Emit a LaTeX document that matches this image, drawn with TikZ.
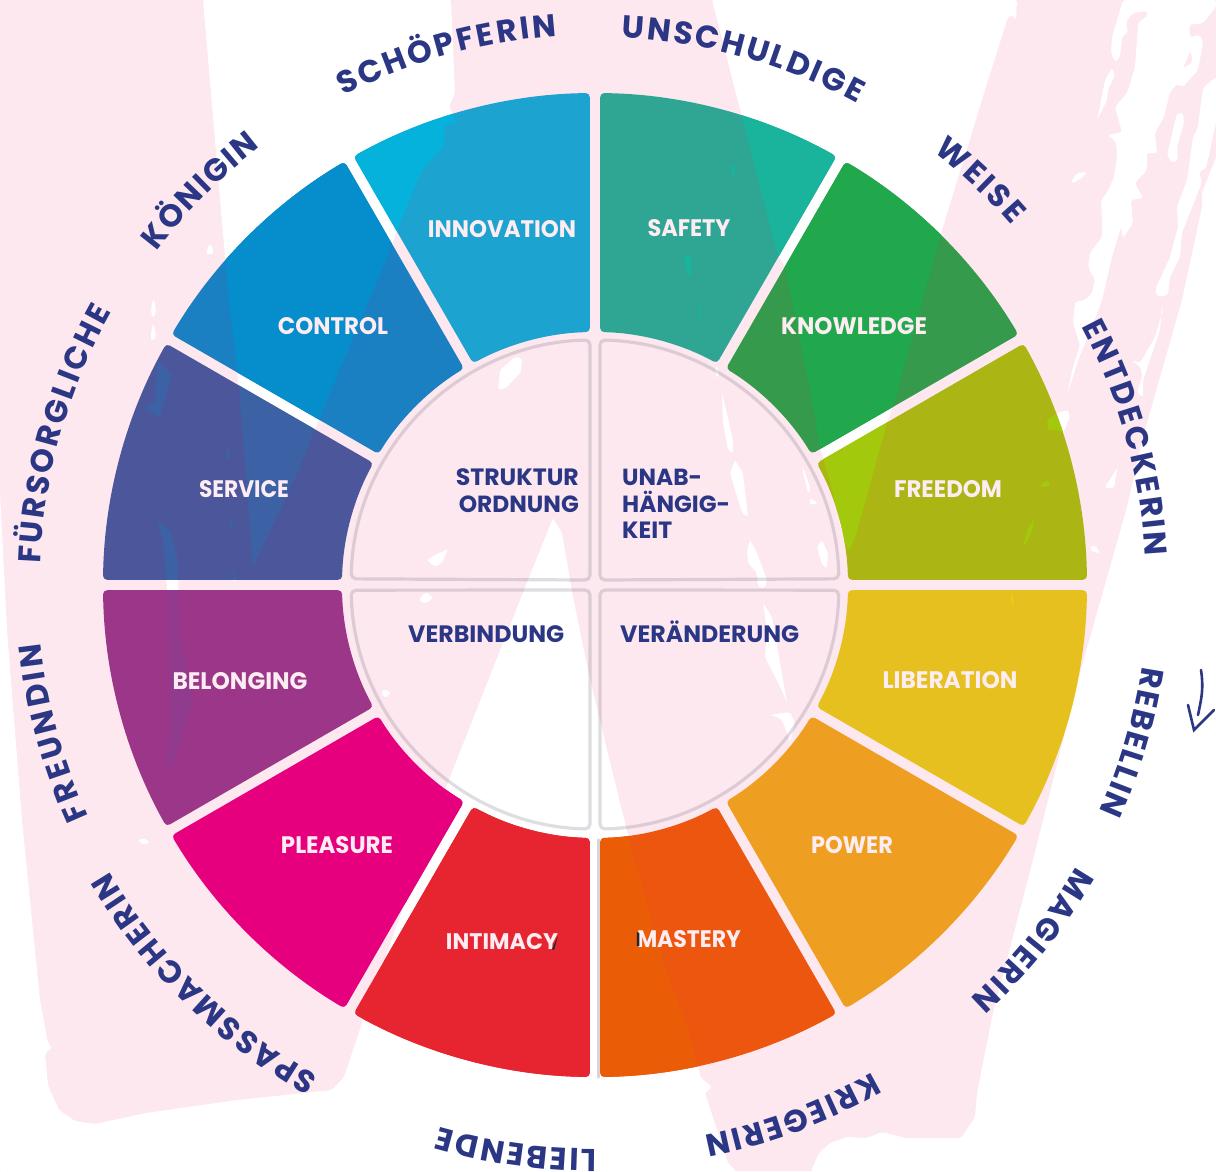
\documentclass[tikz,border=0pt]{standalone}
\usepackage{fontspec}
\usepackage{graphicx}
\setmainfont{Poppins}
\usetikzlibrary{decorations.text}
\definecolor{pinkbg}{HTML}{FDE8EF}
\definecolor{navy}{HTML}{2B3785}
\definecolor{labelw}{HTML}{FDEDF2}
\definecolor{gridl}{HTML}{5A5A70}
\definecolor{sfB}{HTML}{2FA594}\definecolor{sfA}{HTML}{1AB39B}
\definecolor{knB}{HTML}{359A4B}\definecolor{knA}{HTML}{21A84D}
\definecolor{frB}{HTML}{ABB513}\definecolor{frA}{HTML}{A2C90C}
\definecolor{liB}{HTML}{E5C01F}\definecolor{liA}{HTML}{E6CE10}
\definecolor{poB}{HTML}{EE9F22}\definecolor{poA}{HTML}{EE9F22}
\definecolor{maB}{HTML}{ED560F}\definecolor{maA}{HTML}{EA5C05}
\definecolor{inB}{HTML}{E72531}\definecolor{inA}{HTML}{E72531}
\definecolor{plB}{HTML}{E6007E}\definecolor{plA}{HTML}{E6007E}
\definecolor{beB}{HTML}{9B3688}\definecolor{beA}{HTML}{913B8F}
\definecolor{seB}{HTML}{4C569B}\definecolor{seA}{HTML}{3C62A5}
\definecolor{coB}{HTML}{1B80C2}\definecolor{coA}{HTML}{068DCB}
\definecolor{ivB}{HTML}{1CA3CF}\definecolor{ivA}{HTML}{04B2DC}
% white parts of the background, y pointing down in pixels
\newcommand{\whites}{
 (203,0)--(228,292)--(238,377)--(253,567)--(300,467)--(327,400)--(389,253)--(397,230)--(422,170)--(443,147)--(445,125)--(457,122)--(449,107)--(455,93)--(451,0)--cycle
 (712,0)--(741,113)--(777,253)--(785,267)--(812,400)--(820,447)--(832,490)--(845,545)--(850,550)--(856,535)--(887,423)--(895,400)--(942,230)--(985,90)--(1008,17)--(1012,15)--(1016,20)--(1017,0)--cycle
 (553,518)--(562,533)--(573,597)--(588,670)--(607,750)--(630,843)--(665,967)--(689,1033)--(699,1067)--(700,1077)--(712,1087)--(705,1093)--(728,1163)--(736,1171)--(0,1171)--(0,493)--(7,630)--(22,820)--(40,1000)--(48,1043)--(52,1048)--(45,1053)--(48,1085)--(59,1110)--(75,1121)--(95,1124)--(146,1113)--(237,1100)--(332,1090)--(344,1077)--(363,1020)--(450,777)--(528,580)--cycle
 (811,1171)--(819,1153)--(830,1143)--(847,1137)--(867,1138)--(882,1132)--(906,1138)--(961,1138)--(975,1117)--(977,1093)--(993,1013)--(1033,860)--(1080,673)--(1095,620)--(1127,507)--(1143,437)--(1182,300)--(1202,207)--(1202,193)--(1216,157)--(1216,1171)--cycle
 (1123,0)--(1112,37)--(1111,53)--(1115,62)--(1120,57)--(1122,37)--(1128,32)--(1126,22)--(1133,13)--(1147,11)--(1148,15)--(1138,23)--(1137,40)--(1135,67)--(1127,93)--(1115,107)--(1122,132)--(1108,135)--(1116,142)--(1117,157)--(1114,177)--(1107,193)--(1101,200)--(1102,220)--(1102,237)--(1090,253)--(1088,267)--(1095,280)--(1092,293)--(1085,300)--(1075,302)--(1073,323)--(1080,345)--(1073,367)--(1067,395)--(1080,355)--(1090,333)--(1102,300)--(1112,257)--(1121,227)--(1123,238)--(1133,223)--(1131,200)--(1143,198)--(1135,183)--(1147,170)--(1147,153)--(1157,153)--(1155,133)--(1164,117)--(1170,92)--(1177,84)--(1183,87)--(1198,70)--(1203,43)--(1200,35)--(1190,37)--(1189,25)--(1203,23)--(1216,7)--(1216,0)--cycle
 (1203,88)--(1200,110)--(1198,127)--(1193,137)--(1187,180)--(1177,207)--(1178,227)--(1170,257)--(1155,290)--(1158,297)--(1168,295)--(1170,277)--(1180,257)--(1182,233)--(1202,182)--(1199,172)--(1206,168)--(1216,123)--(1216,77)--cycle
 (1071,182)--(1077,173)--(1087,172)--(1082,178)--(1073,183)--cycle
 (1097,120)--(1105,80)--(1112,68)--(1115,75)--(1108,90)--(1107,100)--cycle
 (1167,155)--(1177,113)--(1183,113)--(1184,123)--(1177,147)--(1178,160)--(1172,163)--cycle
 (1183,68)--(1190,52)--(1192,55)--(1192,63)--cycle
 (1162,305)--(1163,310)--(1155,337)--(1140,363)--(1132,360)--(1141,368)--(1142,377)--(1137,393)--(1143,397)--(1143,380)--(1160,330)--cycle
 (1105,487)--(1118,467)--(1115,480)--(1115,487)--(1108,489)--cycle
 (1057,413)--(1068,410)--(1070,417)--(1063,433)--(1057,430)--(1048,430)--(1047,420)--cycle
 (1090,547)--(1095,545)--(1100,553)--(1092,552)--cycle
 (1040,485)--(1048,480)--(1050,485)--(1043,488)--cycle
 (1035,518)--(1030,537)--(1023,547)--(1027,530)--cycle
 (1011,593)--(1013,593)--(1014,605)--(1011,605)--cycle
 (515,357)--(522,358)--(521,372)--(506,388)--(498,390)--(500,370)--cycle
 (715,367)--(718,367)--(719,377)--(716,377)--cycle
 (722,393)--(733,440)--(733,453)--(728,450)--(723,423)--cycle
 (735,460)--(743,473)--(748,517)--(742,513)--(730,473)--cycle
 (803,467)--(811,490)--(808,493)--(803,473)--cycle
 (810,498)--(818,503)--(810,505)--cycle
 (822,540)--(828,553)--(827,568)--(822,565)--(817,547)--cycle
 (750,540)--(757,553)--(767,580)--(765,588)--(758,587)--(757,573)--(748,563)--(747,550)--cycle
 (763,603)--(772,617)--(787,703)--(783,693)--(773,673)--(765,657)--(767,630)--cycle
 (770,715)--(790,712)--(795,723)--(790,742)--(785,727)--(780,718)--cycle
 (448,549)--(442,563)--(435,567)--(427,560)--(435,555)--cycle
 (420,597)--(427,592)--(433,598)--(427,603)--(420,602)--cycle
 (381,692)--(385,689)--(391,693)--(385,698)--cycle
 (138,841)--(143,838)--(150,842)--(145,845)--cycle
 (152,300)--(155,300)--(156,313)--(153,318)--(151,313)--cycle
 (153,323)--(156,333)--(155,340)--(151,340)--(151,333)--cycle
 (206,254)--(209,244)--(213,247)--(213,254)--cycle
 (733,162)--(736,170)--(733,177)--(731,170)--cycle
 (684,256)--(690,255)--(692,268)--(690,278)--(685,268)--cycle
 (698,304)--(700,304)--(701,318)--(699,318)--cycle
 (157,360)--(172,375)--(160,417)--(143,408)--(155,402)--cycle
 (227,445)--(231,458)--(226,460)--cycle
 (230,518)--(233,530)--(229,530)--cycle
 (233,568)--(237,580)--(233,582)--cycle
 (157,520)--(170,530)--(178,560)--(179,633)--(193,700)--(173,767)--(167,767)--(170,717)--(168,600)--(163,540)--cycle
}
\newcommand{\segpath}[1]{
 ({595+492*cos(90-30*#1-0.61)},{-585+492*sin(90-30*#1-0.61)})
 arc[start angle={90-30*#1-0.61},end angle={60-30*#1+0.61},radius=492]
 -- ({595+253*cos(60-30*#1+1.18)},{-585+253*sin(60-30*#1+1.18)})
 arc[start angle={60-30*#1+1.18},end angle={90-30*#1-1.18},radius=253]
 -- cycle}
\newcommand{\arclabel}[4]{% text, clock start, clock end, radius
 \path[decorate,decoration={text along path,text align={fit to path},
   text={|\fontsize{31.5}{32}\selectfont\bfseries\color{navy}|#1}}]
  ({595+#4*cos(90-#2)},{-585+#4*sin(90-#2)})
  arc[start angle={90-#2},end angle={90-#3},radius=#4];}
\newcommand{\seglabel}[6]{% name,x,y,w,h,text
 \node[text=labelw,inner sep=0pt] (#1) at (#2,-#3) {\resizebox{#4pt}{#5pt}{\bfseries #6}};}
\begin{document}
\begin{tikzpicture}[x=1pt,y=1pt,
 quad/.style={draw=gridl,draw opacity=.2,line width=3.2pt,rounded corners=5pt},
 ctext/.style={text=navy,inner sep=0pt,anchor=base west},
 ctextr/.style={text=navy,inner sep=0pt,anchor=base east}]
\useasboundingbox (0,0) rectangle (1216,-1171);
\fill[pinkbg] (0,0) rectangle (1216,-1171);
\begin{scope}[yscale=-1]
 \fill[white,rounded corners=2pt] \whites;
\end{scope}
% grey edge beside Mastery
\draw[gridl,draw opacity=.25,line width=3.5pt,line cap=round] (598.5,-840) -- (598.5,-1077);
% segments
\foreach \k/\cb/\ca in {0/sfB/sfA,1/knB/knA,2/frB/frA,3/liB/liA,4/poB/poA,5/maB/maA,6/inB/inA,7/plB/plA,8/beB/beA,9/seB/seA,10/coB/coA,11/ivB/ivA}{
 \fill[\cb,rounded corners=4pt] \segpath{\k};
 \begin{scope}
  \clip[rounded corners=4pt] \segpath{\k};
  \begin{scope}[yscale=-1]
   \fill[\ca,rounded corners=2pt] \whites;
  \end{scope}
 \end{scope}
}
% quadrants of the inner disc
\draw[quad] (600,-340) arc[start angle=88.8,end angle=1.2,radius=244] -- (600,-580) -- cycle;
\draw[quad] (590,-340) arc[start angle=91.2,end angle=178.8,radius=244] -- (590,-580) -- cycle;
\draw[quad] (590,-829) arc[start angle=268.8,end angle=181.2,radius=244] -- (590,-590) -- cycle;
\draw[quad] (600,-829) arc[start angle=271.2,end angle=358.8,radius=244] -- (600,-590) -- cycle;
% centre texts
\node[ctextr] (struktur) at (579,-485) {\resizebox{123pt}{!}{\bfseries STRUKTUR}};
\node[ctextr] (ordnung) at (579,-512) {\resizebox{120pt}{!}{\bfseries ORDNUNG}};
\node[ctext] (unab) at (622,-485) {\resizebox{80pt}{!}{\bfseries UNAB-}};
\node[ctext] (haengig) at (622,-512) {\resizebox{108pt}{!}{\bfseries HÄNGIG-}};
\node[ctext] (keit) at (622,-538) {\resizebox{50pt}{!}{\bfseries KEIT}};
\node[ctext] (verbindung) at (408,-642) {\resizebox{156pt}{!}{\bfseries VERBINDUNG}};
\node[ctext] (veraenderung) at (620,-642) {\resizebox{179pt}{!}{\bfseries VERÄNDERUNG}};
% segment labels
\seglabel{safety}{689}{228}{83}{17}{SAFETY}
\seglabel{knowledge}{854}{326}{146}{17}{KNOWLEDGE}
\seglabel{freedom}{948}{489}{108}{17}{FREEDOM}
\seglabel{liberation}{950}{680}{135}{17}{LIBERATION}
\seglabel{power}{852}{845}{82}{17}{POWER}
\seglabel{mastery}{689}{939}{104}{17}{MASTERY}
\seglabel{intimacy}{502}{942}{112}{16}{INTIMACY}
\seglabel{pleasure}{337}{845}{112}{17}{PLEASURE}
\seglabel{belonging}{240}{681}{135}{17}{BELONGING}
\seglabel{service}{244}{489}{90}{17}{SERVICE}
\seglabel{control}{333}{326}{110}{17}{CONTROL}
\seglabel{innovation}{502}{229}{148}{17}{INNOVATION}
\fill[black!85] (636.8,-932) -- (639.3,-933) -- (639.3,-946) -- (636.8,-946) -- cycle;
\fill[black!85] (558,-936) -- (554,-950) -- (552,-949) -- cycle;
% outer labels
\arclabel{UNSCHULDIGE}{2.8}{28.6}{548}
\arclabel{WEISE}{38}{49.2}{550}
\arclabel{ENTDECKERIN}{62}{87}{551}
\arclabel{REBELLIN}{98.5}{114.2}{553}
\arclabel{MAGIERIN}{120.3}{137.8}{558}
\arclabel{KRIEGERIN}{150.3}{168.8}{561}
\arclabel{LIEBENDE}{179.8}{196}{564}
\arclabel{SPASSMACHERIN}{209.3}{239.5}{564}
\arclabel{FREUNDIN}{245.5}{264}{557}
\arclabel{FÜRSORGLICHE}{272.2}{299.5}{555}
\arclabel{KÖNIGIN}{307.3}{322.6}{551}
\arclabel{SCHÖPFERIN}{332.8}{356}{550}
% arrow
\coordinate (arS) at (1201,-670);
\coordinate (arE) at (1198,-715);
\coordinate (arL) at (1188,-705);
\coordinate (arT) at (1194,-730);
\coordinate (arR) at (1214,-710);
\draw[navy,line width=2.6pt,line cap=round] (arS) .. controls (1204,-690) and (1201,-700) .. (arE);
\draw[navy,line width=2.6pt,line cap=round,line join=miter] (arL) -- (arT) -- (arR);
\end{tikzpicture}
\end{document}
